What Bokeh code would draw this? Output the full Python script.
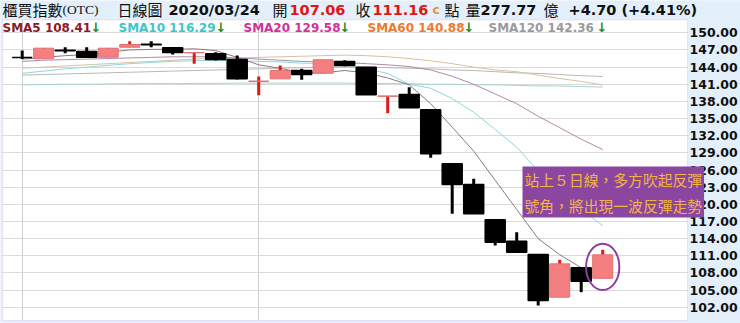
from bokeh.plotting import figure
from bokeh.models import Range1d, FixedTicker, Label, BoxAnnotation
from bokeh.embed import file_html
from bokeh.resources import INLINE

# ---------------- data ----------------
opens = [145.70, 145.45, 146.95, 146.73, 145.73, 147.48, 148.00, 147.38, 146.50, 146.33,
         145.33, 141.50, 141.95, 143.41, 142.93, 144.98, 143.98, 138.90, 139.20, 136.53,
         127.09, 123.47, 117.29, 113.55, 111.22, 103.75, 108.89, 107.06]
closes = [145.70, 147.31, 146.85, 145.73, 147.31, 147.95, 147.90, 146.55, 146.55, 145.33,
          141.95, 141.55, 143.41, 142.71, 145.28, 144.28, 139.16, 138.95, 136.88, 128.83,
          123.47, 118.34, 113.37, 111.62, 103.17, 109.59, 106.55, 111.16]
highs = [146.90, 147.31, 147.48, 147.48, 147.31, 148.53, 148.53, 147.38, 146.55, 146.60,
         146.03, 142.36, 144.28, 143.70, 145.28, 145.20, 143.98, 138.95, 140.48, 136.53,
         127.09, 124.46, 117.29, 115.12, 111.22, 110.29, 108.89, 112.04]
lows = [145.40, 145.45, 146.43, 145.63, 145.73, 147.48, 147.48, 146.20, 144.58, 145.15,
        141.83, 139.09, 141.95, 141.78, 142.93, 144.15, 139.16, 135.94, 136.88, 128.14,
        118.34, 118.34, 112.79, 111.62, 102.30, 103.75, 104.63, 107.06]

sma5 = [145.4, 145.7, 146.0, 146.2, 146.6, 147.0, 147.1, 147.1, 147.2, 146.9,
        145.7, 144.4, 143.8, 143.0, 143.0, 143.4, 143.0, 142.1, 140.9, 137.6,
        133.5, 129.3, 124.2, 119.1, 114.0, 111.2, 108.9, 108.41]
sma10 = [142.9, 143.3, 143.7, 144.0, 144.3, 144.6, 144.8, 145.0, 145.1, 145.2,
         145.1, 145.0, 144.9, 144.7, 144.6, 144.5, 143.7, 142.9, 141.0, 140.3,
         138.5, 136.1, 133.1, 130.0, 125.8, 122.3, 119.1, 116.29]
sma20 = [145.0, 145.2, 145.3, 145.4, 145.5, 145.6, 145.7, 145.8, 145.8, 145.8,
         145.6, 145.4, 145.2, 145.0, 144.9, 144.8, 144.6, 144.4, 144.1, 143.5,
         142.4, 141.0, 139.3, 137.6, 135.4, 133.4, 131.4, 129.58]
sma60 = [143.8, 144.0, 144.2, 144.4, 144.6, 144.8, 145.0, 145.2, 145.4, 145.5,
         145.6, 145.7, 145.8, 145.9, 146.0, 146.1, 146.0, 145.8, 145.5, 145.1,
         144.6, 144.0, 143.5, 143.2, 142.6, 142.0, 141.5, 140.88]
sma120 = [142.6, 142.7, 142.8, 142.9, 143.0, 143.1, 143.2, 143.3, 143.4, 143.5,
          143.6, 143.7, 143.8, 143.9, 144.0, 144.0, 144.0, 143.9, 143.8, 143.7,
          143.5, 143.4, 143.2, 143.0, 142.9, 142.7, 142.5, 142.36]
ma_long = [140.9, 140.95, 141.0, 141.0, 141.05, 141.1, 141.1, 141.1, 141.15, 141.15,
           141.2, 141.2, 141.2, 141.2, 141.2, 141.2, 141.15, 141.1, 141.1, 141.0,
           141.0, 140.9, 140.9, 140.8, 140.7, 140.7, 140.6, 140.5]

y_ticks = [102, 105, 108, 111, 114, 117, 120, 123, 126, 129, 132, 135, 138, 141, 144, 147, 150]
month_starts = [0, 11]

header_items = [
    ("櫃買指數", "#111111", "normal", "cjk"),
    ("(OTC)", "#111111", "normal", "serif"),
    ("日線圖", "#111111", "normal", "cjk"),
    ("2020/03/24", "#111111", "bold", "lat"),
    ("開", "#111111", "normal", "cjk"),
    ("107.06", "#e31414", "bold", "lat"),
    ("收", "#111111", "normal", "cjk"),
    ("111.16", "#e31414", "bold", "lat"),
    ("c", "#e2933a", "bold", "small"),
    ("點", "#111111", "normal", "cjk"),
    ("量", "#111111", "normal", "cjk"),
    ("277.77", "#111111", "bold", "lat"),
    ("億", "#111111", "normal", "cjk"),
    ("+4.70 (+4.41%)", "#111111", "bold", "lat"),
]
header_x = [2, 62, 117, 168, 272, 289, 355, 372, 432, 444, 465, 480, 543, 568]

sma_names = ["SMA5 108.41", "SMA10 116.29", "SMA20 129.58", "SMA60 140.88", "SMA120 142.36"]
sma_label_colors = ["#8b1a2a", "#3cc6c8", "#d2309a", "#ee7a30", "#9a9a9a"]
sma_label_x = [2, 118, 243, 367, 488]
sma_arrow_x = [90, 215, 339, 463, 596]
sma_line_colors = ["#8a7a80", "#8fd8d8", "#b08aa8", "#d8c0a0", "#b8b8b8"]

note_text = "站上５日線，多方吹起反彈\n號角，將出現一波反彈走勢"

# ---------------- layout helpers (canvas pixels -> data) ----------------
W, H = 740, 323
FL, FR, FT, FB = 2, 687, 19.5, 320      # white plotting box
PX_X = 21.5
X0 = -21.7 / PX_X
X1 = X0 + W / PX_X
PX_Y = 5.717
Y1 = 150 + 32.3 / PX_Y
Y0 = Y1 - H / PX_Y


def dx(px):
    return X0 + px / PX_X


def dy(py):
    return Y1 - py / PX_Y


p = figure(width=W, height=H, output_backend="svg", toolbar_location=None,
           x_range=Range1d(X0, X1), y_range=Range1d(Y0, Y1),
           x_axis_location=None, y_axis_location=None,
           min_border_left=0, min_border_right=0, min_border_top=0, min_border_bottom=0)
p.border_fill_color = "#e3effa"
p.background_fill_color = "white"
p.outline_line_color = None

p.ygrid.ticker = FixedTicker(ticks=y_ticks)
p.ygrid.grid_line_color = "#dadada"
p.xgrid.ticker = FixedTicker(ticks=month_starts)
p.xgrid.grid_line_color = "#d0d0d0"

idx = list(range(len(closes)))

# moving average lines
p.line(idx, ma_long, line_color="#a8d0d0", line_width=1)
for vals, col in zip([sma120, sma60, sma20, sma10, sma5], sma_line_colors[::-1]):
    p.line(idx, vals, line_color=col, line_width=1)

# candles
up_x, up_top, up_bot, up_hi, up_lo = [], [], [], [], []
dn_x, dn_top, dn_bot, dn_hi, dn_lo = [], [], [], [], []
for i, (o, c, h, l) in enumerate(zip(opens, closes, highs, lows)):
    if c > o:
        up_x.append(i); up_top.append(c); up_bot.append(o); up_hi.append(h); up_lo.append(l)
    else:
        dn_x.append(i); dn_top.append(o); dn_bot.append(c); dn_hi.append(h); dn_lo.append(l)

p.segment(x0=up_x, y0=up_hi, x1=up_x, y1=up_lo, line_color="#e01818", line_width=3)
p.vbar(x=up_x, top=up_top, bottom=up_bot, width=0.93, fill_color="#f57f80", line_color="#e07070", line_width=1)
p.segment(x0=dn_x, y0=dn_hi, x1=dn_x, y1=dn_lo, line_color="black", line_width=3)
p.vbar(x=dn_x, top=dn_top, bottom=dn_bot, width=0.93, fill_color="black", line_color="black", line_width=1.5)

# circle around the last candle
last = len(closes) - 1
p.ellipse(x=[last], y=[(highs[last] + lows[last]) / 2 - 0.5], width=1.55, height=8.1,
          fill_color=None, line_color="#8e3e9e", line_width=2)

# light-blue margins (header strip, axis strip) covering grid lines
BG = "#e3effa"
p.add_layout(BoxAnnotation(top=Y1 + 1, bottom=dy(FT), left=X0 - 1, right=X1 + 1,
                           fill_color=BG, fill_alpha=1, line_color=None))
p.add_layout(BoxAnnotation(top=Y1 + 1, bottom=Y0 - 1, left=dx(FR), right=X1 + 1,
                           fill_color=BG, fill_alpha=1, line_color=None))
p.add_layout(BoxAnnotation(top=Y1 + 1, bottom=Y0 - 1, left=X0 - 1, right=dx(FL),
                           fill_color=BG, fill_alpha=1, line_color=None))
p.add_layout(BoxAnnotation(top=dy(FB), bottom=Y0 - 1, left=X0 - 1, right=X1 + 1,
                           fill_color=BG, fill_alpha=1, line_color=None))
# plotting-box outline
p.add_layout(BoxAnnotation(top=dy(FT), bottom=dy(FB), left=dx(FL), right=dx(FR),
                           fill_color=None, fill_alpha=0, line_color="#cfb0d2", line_width=1))

# y-axis tick labels (right side)
for t in y_ticks:
    p.add_layout(Label(x=dx(689), y=t, text=f"{t:.2f}", text_color="#111111",
                       text_font="DejaVu Sans", text_font_style="bold", text_font_size="12.5px",
                       text_baseline="middle", text_align="left"))

# header row
fonts = {"cjk": "Noto Sans CJK TC", "lat": "DejaVu Sans", "small": "DejaVu Sans",
         "serif": "Liberation Serif"}
sizes = {"cjk": "15px", "lat": "14.5px", "small": "12px", "serif": "13.5px"}
for (txt, col, style, kind), x in zip(header_items, header_x):
    p.add_layout(Label(x=dx(x), y=dy(9), text=txt, text_color=col, text_font=fonts[kind],
                       text_font_style=style, text_font_size=sizes[kind],
                       text_baseline="middle", text_align="left"))

# SMA legend row
for name, col, x, ax in zip(sma_names, sma_label_colors, sma_label_x, sma_arrow_x):
    p.add_layout(Label(x=dx(x), y=dy(27), text=name, text_color=col, text_font="DejaVu Sans",
                       text_font_style="bold", text_font_size="12px",
                       text_baseline="middle", text_align="left"))
    p.add_layout(Label(x=dx(ax), y=dy(27), text="↓", text_color="#1f8a1f", text_font="DejaVu Sans",
                       text_font_style="bold", text_font_size="13px",
                       text_baseline="middle", text_align="left"))

# annotation note
p.add_layout(Label(x=dx(522), y=dy(166), text=note_text, text_color="#f3b446",
                   text_font="Noto Sans CJK TC", text_font_size="14.8px",
                   text_line_height=1.24, text_baseline="top", text_align="left",
                   background_fill_color="#8b46a0", padding=2))

open("out.html", "w").write(file_html(p, INLINE))
